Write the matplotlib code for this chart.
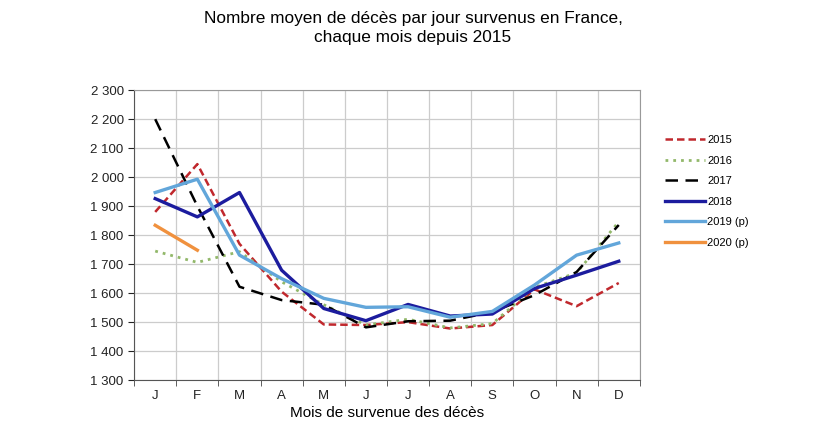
import matplotlib
matplotlib.use("Agg")
import matplotlib.pyplot as plt
from matplotlib.ticker import FuncFormatter, MultipleLocator

plt.rcParams["font.family"] = ["Liberation Sans", "DejaVu Sans"]

# données (décès moyens par jour)
mois = ["J", "F", "M", "A", "M", "J", "J", "A", "S", "O", "N", "D"]
d2015 = [1880, 2045, 1770, 1605, 1492, 1490, 1500, 1478, 1490, 1613, 1555, 1635]
d2016 = [1745, 1706, 1743, 1639, 1560, 1490, 1510, 1480, 1495, 1620, 1670, 1846]
d2017 = [2200, 1900, 1622, 1576, 1560, 1482, 1503, 1505, 1535, 1593, 1673, 1835]
d2018 = [1926, 1863, 1947, 1679, 1547, 1505, 1561, 1521, 1528, 1616, 1662, 1710]
d2019 = [1947, 1993, 1731, 1650, 1582, 1551, 1553, 1517, 1537, 1628, 1731, 1773]
d2020 = [1834, 1748]

series = [
    ("2015", d2015, dict(color="#C0282D", ls=(0, (3, 1.6)), lw=1.8)),
    ("2016", d2016, dict(color="#92B86A", ls=(0, (1, 1.8)), lw=2.0)),
    ("2017", d2017, dict(color="#000000", ls=(0, (5, 3)), lw=1.8)),
    ("2018", d2018, dict(color="#1C1C9E", ls="-", lw=2.4)),
    ("2019 (p)", d2019, dict(color="#62A6DA", ls="-", lw=2.4)),
    ("2020 (p)", d2020, dict(color="#F0913E", ls="-", lw=2.4)),
]

fig = plt.figure(figsize=(8.13, 4.42), dpi=100)
ax = fig.add_axes([0.165, 0.140, 0.622, 0.656])

for nom, vals, style in series:
    ax.plot(range(len(vals)), vals, label=nom, **style)

ax.set_xlim(-0.5, 11.5)
ax.set_ylim(1300, 2300)
ax.yaxis.set_major_locator(MultipleLocator(100))
ax.yaxis.set_major_formatter(FuncFormatter(lambda v, p: f"{int(v):,}".replace(",", " ")))

ax.set_xticks(range(12))
ax.set_xticklabels(mois)
ax.set_xticks([i + 0.5 for i in range(-1, 12)], minor=True)
ax.tick_params(axis="x", which="major", length=0, pad=7, labelsize=9.5, colors="#222222")
ax.tick_params(axis="x", which="minor", length=4, direction="out", color="#444444")
ax.tick_params(axis="y", length=4, direction="out", labelsize=9.5, colors="#222222")

ax.grid(True, axis="y", color="#CCCCCC", lw=0.9)
ax.grid(True, axis="x", which="minor", color="#CCCCCC", lw=0.9)
ax.set_axisbelow(True)

for s in ["top", "right"]:
    ax.spines[s].set_color("#999999")
for s in ["left", "bottom"]:
    ax.spines[s].set_color("#555555")

ax.set_xlabel("Mois de survenue des décès", fontsize=11, labelpad=3)
fig.suptitle("Nombre moyen de décès par jour survenus en France,\nchaque mois depuis 2015",
             fontsize=12.4, x=0.508, y=0.975, linespacing=1.35)

leg = ax.legend(loc="upper left", bbox_to_anchor=(1.03, 0.88), frameon=False,
                fontsize=8, handlelength=3.6, handletextpad=0.2, labelspacing=0.95)

fig.savefig("out.png", dpi=100)
